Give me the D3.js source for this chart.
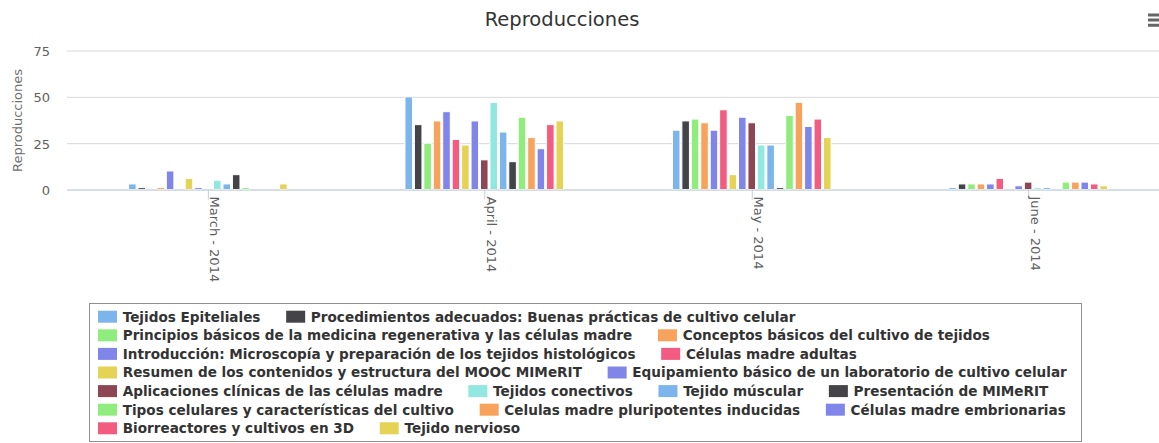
<!DOCTYPE html>
<html>
<head>
<meta charset="utf-8">
<script src="https://cdn.jsdelivr.net/npm/d3@7"></script>
<style>
body { margin: 0; background: #fff; }
svg { display: block; font-family: "DejaVu Sans", sans-serif; }
</style>
</head>
<body>
<script>
//months on the x axis (first day of each month)
var months = [new Date(2014, 2, 1), new Date(2014, 3, 1), new Date(2014, 4, 1), new Date(2014, 5, 1)];

//y axis ticks
var yTicks = [0, 25, 50, 75];

//series (legend order)
var seriesNames = [
    "Tejidos Epiteliales",
    "Procedimientos adecuados: Buenas prácticas de cultivo celular",
    "Principios básicos de la medicina regenerativa y las células madre",
    "Conceptos básicos del cultivo de tejidos",
    "Introducción: Microscopía y preparación de los tejidos histológicos",
    "Células madre adultas",
    "Resumen de los contenidos y estructura del MOOC MIMeRIT",
    "Equipamiento básico de un laboratorio de cultivo celular",
    "Aplicaciones clínicas de las células madre",
    "Tejidos conectivos",
    "Tejido múscular",
    "Presentación de MIMeRIT",
    "Tipos celulares y características del cultivo",
    "Celulas madre pluripotentes inducidas",
    "Células madre embrionarias",
    "Biorreactores y cultivos en 3D",
    "Tejido nervioso"
];

//reproducciones per series, one value per month (Mar, Apr, May, Jun)
var reproducciones = [
    [3, 50, 32, 1],   //Tejidos Epiteliales
    [1, 35, 37, 3],   //Procedimientos adecuados
    [0, 25, 38, 3],   //Principios básicos
    [1, 37, 36, 3],   //Conceptos básicos
    [10, 42, 32, 3],  //Introducción
    [0, 27, 43, 6],   //Células madre adultas
    [6, 24, 8, 0],    //Resumen
    [1, 37, 39, 2],   //Equipamiento básico
    [0, 16, 36, 4],   //Aplicaciones clínicas
    [5, 47, 24, 1],   //Tejidos conectivos
    [3, 31, 24, 1],   //Tejido múscular
    [8, 15, 1, 0],    //Presentación
    [1, 39, 40, 4],   //Tipos celulares
    [0, 28, 47, 4],   //Celulas madre pluripotentes
    [0, 22, 34, 4],   //Células madre embrionarias
    [0, 35, 38, 3],   //Biorreactores
    [3, 37, 28, 2]    //Tejido nervioso
];

//highcharts 4.0 palette
var palette = ["#7cb5ec", "#434348", "#90ed7d", "#f7a35c", "#8085e9",
               "#f15c80", "#e4d354", "#8085e8", "#8d4653", "#91e8e1"];

var w = 1159, h = 443;
var plotLeft = 67, plotRight = 1169, plotTop = 50.5, plotBottom = 189.5;

var svg = d3.select("body").append("svg")
    .attr("width", w)
    .attr("height", h);

//time scale, padded half a month on each side
var pad = 15.8 * 864e5;
var x = d3.scaleTime()
    .domain([new Date(+months[0] - pad), new Date(+months[months.length - 1] + pad)])
    .range([plotLeft, plotRight]);

var y = d3.scaleLinear()
    .domain([0, 75])
    .range([plotBottom, plotTop]);

//title
svg.append("text")
    .attr("x", 562)
    .attr("y", 26)
    .attr("text-anchor", "middle")
    .style("font-size", "19.5px")
    .style("fill", "#333333")
    .text("Reproducciones");

//export menu icon
svg.append("path")
    .attr("d", "M1148,15H1159M1148,20H1159M1148,25.3H1159")
    .style("stroke", "#666")
    .style("stroke-width", 3);

//y axis with gridlines
var yAxis = svg.append("g")
    .attr("transform", "translate(" + plotLeft + ",0)")
    .call(d3.axisLeft(y)
        .tickValues(yTicks)
        .tickSize(-(plotRight - plotLeft))
        .tickPadding(17));
yAxis.select(".domain").remove();
yAxis.selectAll("line").style("stroke", "#D8D8D8");
yAxis.selectAll("text")
    .attr("dy", "0.38em")
    .style("font-size", "13px")
    .style("fill", "#606060")
    .style("font-family", "DejaVu Sans, sans-serif");

//y axis title
svg.append("text")
    .attr("transform", "translate(22,120.5) rotate(-90)")
    .attr("text-anchor", "middle")
    .style("font-size", "13px")
    .style("fill", "#707070")
    .text("Reproducciones");

//column geometry: groupPadding 0.2, pointPadding 0.1
var gaps = d3.pairs(months, function(a, b){ return x(b) - x(a); });
var pointRange = d3.min(gaps);
var groupWidth = pointRange * (1 - 2 * 0.2);
var slot = groupWidth / seriesNames.length;
var barW = slot * (1 - 2 * 0.1);

var bars = [];
reproducciones.forEach(function(vals, i){
    vals.forEach(function(v, j){
        bars.push({ s: i, date: months[j], value: v });
    });
});

svg.append("g").selectAll("rect")
    .data(bars.filter(function(d){ return d.value > 0; }))
    .enter()
    .append("rect")
    .attr("x", function(d){
        return x(d.date) - groupWidth / 2 + d.s * slot + (slot - barW) / 2;
    })
    .attr("y", function(d){ return y(d.value); })
    .attr("width", barW)
    .attr("height", function(d){ return y(0) - y(d.value); })
    .style("fill", function(d){ return palette[d.s % palette.length]; })
    .style("stroke", "#ffffff")
    .style("stroke-width", 1);

//x axis
var xAxis = svg.append("g")
    .attr("transform", "translate(0," + plotBottom + ")")
    .call(d3.axisBottom(x)
        .tickValues(months)
        .tickFormat(d3.timeFormat("%B - %Y"))
        .tickSize(10)
        .tickSizeOuter(0));
xAxis.select(".domain").style("stroke", "#C0D0E0");
xAxis.selectAll("line").style("stroke", "#C0D0E0");
xAxis.selectAll("text")
    .attr("x", 0)
    .attr("y", 0)
    .attr("dy", null)
    .attr("transform", "translate(2,7) rotate(90)")
    .attr("text-anchor", "start")
    .style("font-size", "13px")
    .style("fill", "#606060")
    .style("font-family", "DejaVu Sans, sans-serif");

//legend
var lx0 = 98, ly0 = 316.7, rowH = 18.6;
var symW = 19, symH = 12, symPad = 5.7, itemDist = 25.7, maxRight = 1092;

var legend = svg.append("g");
var box = legend.append("rect")
    .style("fill", "none")
    .style("stroke", "#909090");

var items = legend.selectAll(".item")
    .data(seriesNames)
    .enter()
    .append("g")
    .attr("class", "item");

items.append("rect")
    .attr("y", -symH / 2)
    .attr("width", symW)
    .attr("height", symH)
    .style("fill", function(d, i){ return palette[i % palette.length]; });

items.append("text")
    .attr("x", symW + symPad)
    .attr("dy", "0.36em")
    .style("font-size", "13.6px")
    .style("font-weight", "bold")
    .style("fill", "#333333")
    .text(function(d){ return d; });

//flow items into rows
var cx = lx0, row = 0, maxEnd = 0;
items.each(function(){
    var tw = this.querySelector("text").getComputedTextLength();
    var iw = symW + symPad + tw;
    if (cx > lx0 && cx + iw > maxRight) {
        row++;
        cx = lx0;
    }
    d3.select(this).attr("transform", "translate(" + cx + "," + (ly0 + row * rowH) + ")");
    maxEnd = Math.max(maxEnd, cx + iw);
    cx += iw + itemDist;
});

box.attr("x", 89.5)
    .attr("y", 303.5)
    .attr("width", Math.round(maxEnd + 14) - 89)
    .attr("height", row * rowH + 26.4);
</script>
</body>
</html>
